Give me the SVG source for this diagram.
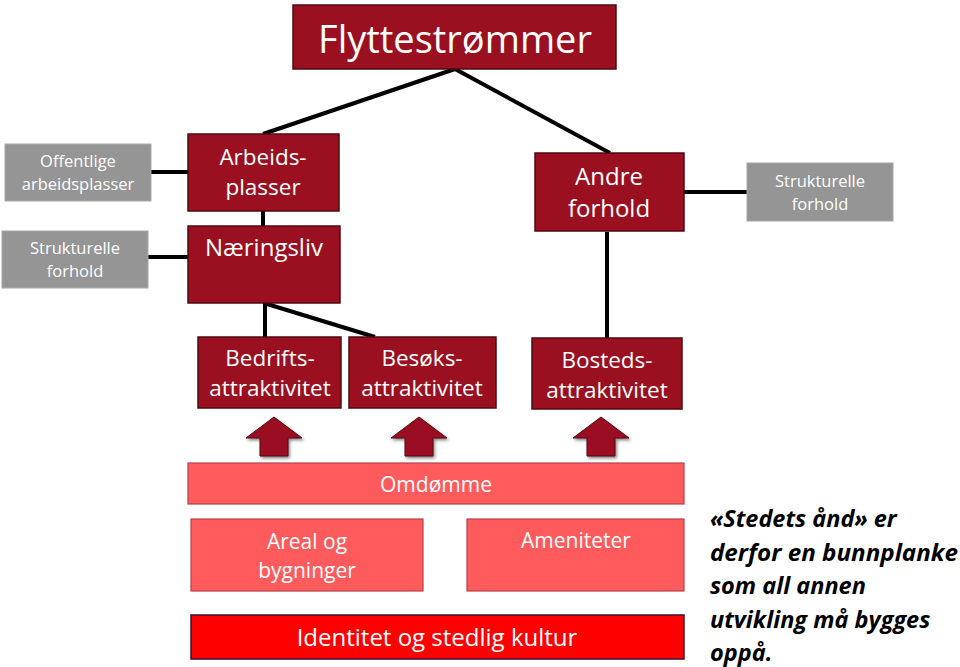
<svg xmlns="http://www.w3.org/2000/svg" width="960" height="667" viewBox="0 0 960 667">
<defs>
<style>
.dk{fill:#9a1021;stroke:#4f0a12;stroke-width:1.5}
.gr{fill:#959595;stroke:#a8a8a8;stroke-width:1}
.co{fill:#ff5a5c;stroke:#b8404a;stroke-width:1.2}
.rd{fill:#ff0000;stroke:#3b1030;stroke-width:1.5}
text{font-family:"Open Sans","Noto Sans","Liberation Sans",sans-serif;fill:#ffffff;text-anchor:middle}
.t24{font-size:22.5px}
.t17{font-size:16.5px}
.note{font-family:"Open Sans","Liberation Sans",sans-serif;font-size:23.5px;font-weight:bold;font-style:italic;fill:#000;text-anchor:start}
.ln{stroke:#000;stroke-width:4;fill:none}
</style>
<filter id="sh" x="-30%" y="-30%" width="160%" height="160%">
<feDropShadow dx="1.5" dy="2" stdDeviation="1.5" flood-color="#000" flood-opacity="0.45"/>
</filter>
</defs>
<rect width="960" height="667" fill="#ffffff"/>
<g id="connectors">
<line class="ln" x1="455" y1="69" x2="263" y2="134"/>
<line class="ln" x1="455" y1="69" x2="610" y2="153"/>
<line class="ln" x1="151" y1="172" x2="188" y2="172"/>
<line class="ln" x1="148" y1="257" x2="188" y2="257"/>
<line class="ln" x1="263" y1="211" x2="263" y2="226"/>
<line class="ln" x1="684" y1="192" x2="747" y2="192"/>
<line class="ln" x1="607" y1="232" x2="607" y2="338"/>
<line class="ln" x1="265" y1="303" x2="265" y2="337"/>
<line class="ln" x1="267" y1="304" x2="375" y2="337"/>
</g>
<g id="title"><rect class="dk" x="293" y="5" width="323" height="64"/><text x="455" y="53" style="font-size:38px">Flyttestrømmer</text></g>
<g id="arbeidsplasser"><rect class="dk" x="188" y="134" width="151" height="77"/><text class="t24" x="263" y="165">Arbeids-</text><text class="t24" x="263" y="195">plasser</text></g>
<g id="naeringsliv"><rect class="dk" x="188" y="226" width="152" height="77"/><text class="t24" x="264" y="256" style="font-size:24px">Næringsliv</text></g>
<g id="offentlige"><rect class="gr" x="5" y="144" width="146" height="57"/><text class="t17" x="78" y="167">Offentlige</text><text class="t17" x="78" y="190">arbeidsplasser</text></g>
<g id="strukturelle-venstre"><rect class="gr" x="2" y="231" width="146" height="57"/><text class="t17" x="75" y="254">Strukturelle</text><text class="t17" x="75" y="277">forhold</text></g>
<g id="andre"><rect class="dk" x="535" y="153" width="149" height="78"/><text class="t24" x="609" y="185" style="font-size:24px">Andre</text><text class="t24" x="609" y="217" style="font-size:24px">forhold</text></g>
<g id="strukturelle-hoyre"><rect class="gr" x="747" y="163" width="146" height="58"/><text class="t17" x="820" y="187">Strukturelle</text><text class="t17" x="820" y="210">forhold</text></g>
<g id="bedrifts"><rect class="dk" x="198" y="337" width="143" height="71"/><text class="t24" x="270" y="366">Bedrifts-</text><text class="t24" x="270" y="396">attraktivitet</text></g>
<g id="besoks"><rect class="dk" x="349" y="337" width="147" height="71"/><text class="t24" x="422" y="366">Besøks-</text><text class="t24" x="422" y="396">attraktivitet</text></g>
<g id="bosteds"><rect class="dk" x="532" y="338" width="150" height="71"/><text class="t24" x="607" y="368">Bosteds-</text><text class="t24" x="607" y="398">attraktivitet</text></g>
<g id="arrows" filter="url(#sh)">
<polygon class="dk" points="274,417 302,438 288,438 288,456 260,456 260,438 246,438" style="stroke-width:1"/>
<polygon class="dk" points="419,417 447,438 433,438 433,456 405,456 405,438 391,438" style="stroke-width:1"/>
<polygon class="dk" points="601,417 629,438 615,438 615,456 587,456 587,438 573,438" style="stroke-width:1"/>
</g>
<g id="omdomme"><rect class="co" x="188" y="463" width="496" height="41"/><text x="436" y="492" style="font-size:21px">Omdømme</text></g>
<g id="areal"><rect class="co" x="191" y="519" width="232" height="72"/><text x="307" y="549" style="font-size:21px">Areal og</text><text x="307" y="578" style="font-size:21px">bygninger</text></g>
<g id="ameniteter"><rect class="co" x="467" y="519" width="217" height="72"/><text x="576" y="548" style="font-size:21px">Ameniteter</text></g>
<g id="identitet"><rect class="rd" x="191" y="615" width="493" height="44"/><text x="437" y="646" style="font-size:24px">Identitet og stedlig kultur</text></g>
<g id="note">
<text class="note" x="710" y="527">«Stedets ånd» er</text>
<text class="note" x="710" y="561" textLength="248" lengthAdjust="spacingAndGlyphs">derfor en bunnplanke</text>
<text class="note" x="710" y="594">som all annen</text>
<text class="note" x="710" y="628">utvikling må bygges</text>
<text class="note" x="710" y="661">oppå.</text>
</g>
</svg>
